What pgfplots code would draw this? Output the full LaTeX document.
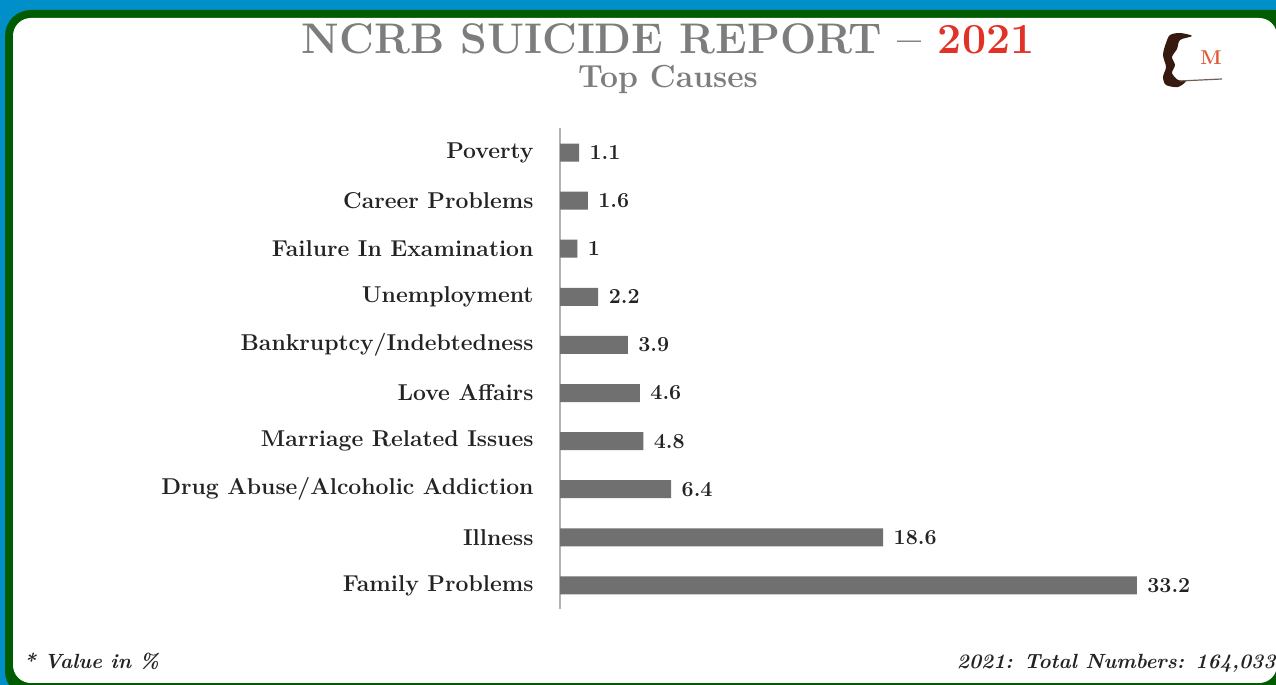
\documentclass[border=0pt]{standalone}
\usepackage{pgfplots}
\pgfplotsset{compat=1.18}
\definecolor{bgblue}{RGB}{0,143,200}
\definecolor{frgreen}{RGB}{0,92,0}
\definecolor{bargray}{RGB}{112,112,112}
\definecolor{titlegray}{RGB}{125,125,125}
\definecolor{titlered}{RGB}{226,50,40}
\definecolor{txt}{RGB}{35,35,35}
\definecolor{logobrown}{RGB}{55,25,15}
\definecolor{logoorange}{RGB}{225,85,50}
\begin{document}
\begin{tikzpicture}[x=1bp,y=1bp]
\path[use as bounding box] (0,0) rectangle (1276,685);
\clip (0,0) rectangle (1276,685);
\fill[bgblue] (0,0) rectangle (1276,685);
\fill[frgreen, rounded corners=26] (5,-12) rectangle (1300,675);
\fill[white, rounded corners=18] (13,2) rectangle (1277,667);
% title
\node[anchor=base, font=\bfseries\fontsize{43}{43}\selectfont] at (668,631)
  {\textcolor{titlegray}{NCRB SUICIDE REPORT --} \textcolor{titlered}{2021}};
\node[anchor=base, text=titlegray, font=\bfseries\fontsize{32}{32}\selectfont] at (668,597) {Top Causes};
% logo
\fill[logobrown] plot[smooth cycle] coordinates {(1170,650) (1180,652) (1192,649) (1180,645) (1177,636) (1172,628) (1175,620) (1172,612) (1178,605) (1186,604) (1178,598) (1166,600) (1163,608) (1166,618) (1163,630) (1166,642)};
\draw[logobrown!70, line width=1.2] (1180,604) -- (1222,606);
\node[anchor=base, text=logoorange, font=\bfseries\fontsize{20}{20}\selectfont] at (1211,620) {M};
\begin{axis}[
  at={(560bp,75.5bp)}, anchor=south west,
  scale only axis, width=695bp, height=481bp,
  xmin=0, xmax=40, ymin=-0.5, ymax=9.5,
  hide x axis,
  axis y line*=left,
  y axis line style={draw=black!30, line width=1.5pt},
  major tick length=0,
  ytick={0,...,9},
  yticklabels={Family Problems, Illness, Drug Abuse/Alcoholic Addiction, Marriage Related Issues, Love Affairs, Bankruptcy/Indebtedness, Unemployment, Failure In Examination, Career Problems, Poverty},
  yticklabel style={font=\bfseries\fontsize{23}{23}\selectfont, text=txt, xshift=-23bp},
  xbar, bar width=18bp,
  nodes near coords,
  nodes near coords style={font=\bfseries\fontsize{21.5}{21.5}\selectfont, text=txt, anchor=west, xshift=7bp},
  point meta=explicit symbolic,
  clip=false,
]
\addplot[fill=bargray, draw=none] coordinates {
 (33.2,0) [33.2] (18.6,1) [18.6] (6.4,2) [6.4] (4.8,3) [4.8] (4.6,4) [4.6]
 (3.9,5) [3.9] (2.2,6) [2.2] (1,7) [1] (1.6,8) [1.6] (1.1,9) [1.1]};
\end{axis}
\node[anchor=base west, text=txt, font=\bfseries\itshape\fontsize{20.6}{20.6}\selectfont] at (20,16) {* Value in \%};
\node[anchor=base east, text=txt, font=\bfseries\itshape\fontsize{20.6}{20.6}\selectfont] at (1279,16) {2021: Total Numbers: 164,033};
\end{tikzpicture}
\end{document}
